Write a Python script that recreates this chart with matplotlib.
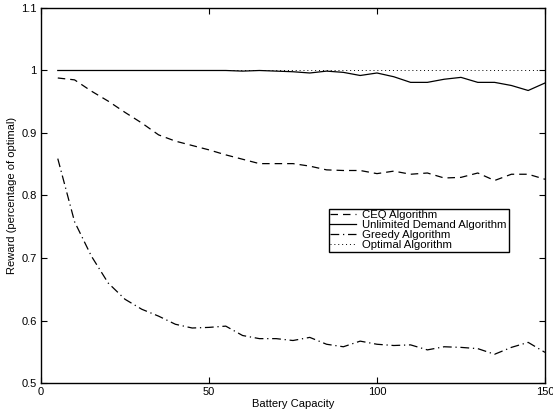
"""Reward vs battery capacity for the four algorithms."""

import matplotlib
matplotlib.use('Agg')
import matplotlib.pyplot as plt

plt.rcParams['font.family'] = ['Liberation Sans', 'DejaVu Sans']

# battery capacity sampled every 5 units
capacity = list(range(5, 151, 5))

ceq = [0.988, 0.985, 0.967, 0.951, 0.933, 0.916, 0.897, 0.887, 0.880, 0.873,
       0.865, 0.858, 0.851, 0.851, 0.851, 0.847, 0.841, 0.840, 0.840, 0.835,
       0.839, 0.834, 0.836, 0.828, 0.829, 0.836, 0.824, 0.834, 0.834, 0.826]

unlimited = [1.000, 1.000, 1.000, 1.000, 1.000, 1.000, 1.000, 1.000, 1.000, 1.000,
             1.000, 0.999, 1.000, 0.999, 0.998, 0.996, 0.999, 0.997, 0.992, 0.996,
             0.990, 0.981, 0.981, 0.986, 0.989, 0.981, 0.981, 0.976, 0.968, 0.980]

greedy = [0.859, 0.758, 0.703, 0.660, 0.634, 0.618, 0.607, 0.594, 0.588, 0.589,
          0.591, 0.576, 0.571, 0.571, 0.568, 0.573, 0.562, 0.558, 0.567, 0.562,
          0.560, 0.561, 0.553, 0.558, 0.557, 0.555, 0.546, 0.557, 0.565, 0.549]

optimal = [1.0] * len(capacity)

fig = plt.figure(figsize=(5.53, 4.16), dpi=100)
ax = fig.add_axes([0.0741, 0.0793, 0.9114, 0.9015])

lw = 0.9
ax.plot(capacity, ceq, color='black', lw=lw, dashes=(6, 4), label='CEQ Algorithm')
ax.plot(capacity, unlimited, color='black', lw=lw, label='Unlimited Demand Algorithm')
ax.plot(capacity, greedy, color='black', lw=lw, dashes=(7, 3, 1, 3), label='Greedy Algorithm')
ax.plot(capacity, optimal, color='black', lw=0.7, dashes=(1, 3), label='Optimal Algorithm')

ax.set_xlim(0, 150)
ax.set_ylim(0.5, 1.1)
ax.set_xticks([0, 50, 100, 150])
ax.set_yticks([0.5, 0.6, 0.7, 0.8, 0.9, 1.0, 1.1])
ax.set_yticklabels(['0.5', '0.6', '0.7', '0.8', '0.9', '1', '1.1'])
ax.tick_params(direction='in', top=True, right=True, labelsize=8, length=4, width=0.8, pad=3)
for s in ax.spines.values():
    s.set_linewidth(1.0)

ax.set_xlabel('Battery Capacity', fontsize=8, labelpad=1)
ax.set_ylabel('Reward (percentage of optimal)', fontsize=8, labelpad=3)

leg = ax.legend(loc='lower left', bbox_to_anchor=(0.571, 0.349, 0.358, 0.134), mode='expand',
                fontsize=8.2, handlelength=2.2, handletextpad=0.6, borderpad=0.15,
                labelspacing=0.0, borderaxespad=0, fancybox=False, framealpha=1)
leg.get_frame().set_edgecolor('black')
leg.get_frame().set_linewidth(1.0)

fig.savefig('out.png', dpi=100)
